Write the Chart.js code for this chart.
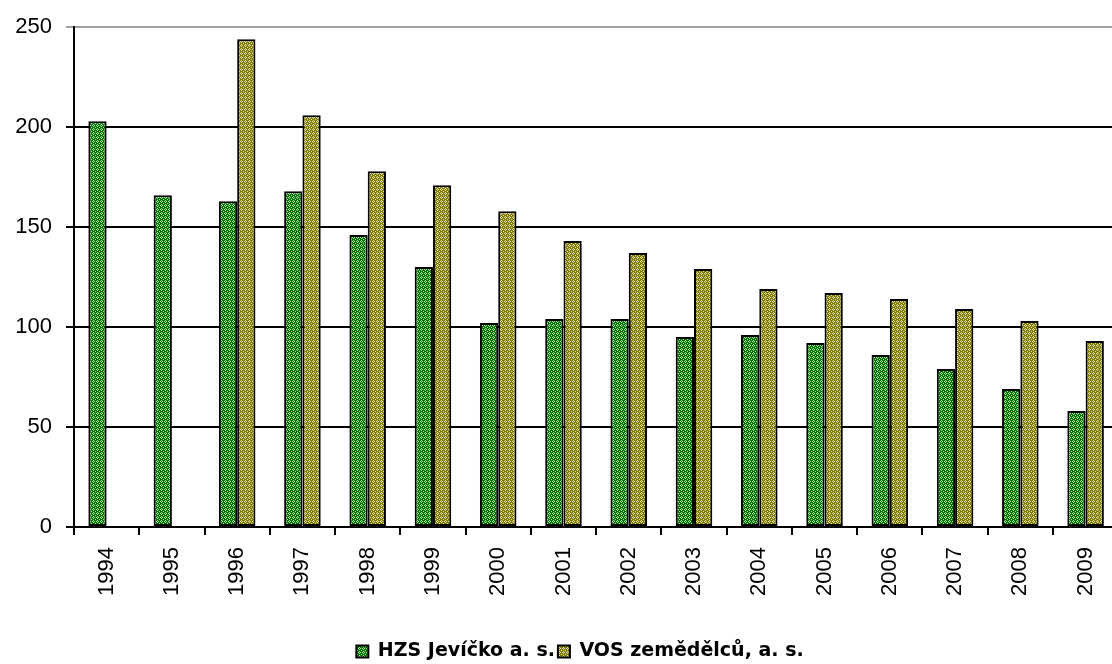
<!DOCTYPE html>
<html>
<head>
<meta charset="utf-8">
<script src="https://cdn.jsdelivr.net/npm/chart.js@4"></script>
<style>
  html, body { margin: 0; padding: 0; background: #fff; overflow: hidden; }
  #wrap { width: 1124px; height: 664px; }
</style>
</head>
<body>
<div id="wrap"><canvas id="myChart" width="1124" height="664"></canvas></div>
<script>
const years = ['1994', '1995', '1996', '1997', '1998', '1999', '2000', '2001',
               '2002', '2003', '2004', '2005', '2006', '2007', '2008', '2009'];
const hzsValues = [203, 166, 163, 168, 146, 130, 102, 104, 104, 95, 96, 92, 86, 79, 69, 58];
const vosValues = [null, null, 244, 206, 178, 171, 158, 143, 137, 129, 119, 117, 114, 109, 103, 93];
const seriesNames = ['HZS Jevíčko a. s.', 'VOS zemědělců, a. s.'];
const yTicks = [0, 50, 100, 150, 200, 250];

// small hatch tile like the old Excel "dotted diamond" fill
function makePattern(base, light) {
    const c = document.createElement('canvas');
    c.width = 4;
    c.height = 4;
    const g = c.getContext('2d');
    g.fillStyle = base;
    g.fillRect(0, 0, 4, 4);
    g.fillStyle = light;
    [[1, 0], [0, 1], [2, 1], [1, 2], [3, 3]].forEach(p => g.fillRect(p[0], p[1], 1, 1));
    return g.createPattern(c, 'repeat');
}

const greenFill = makePattern('#007800', '#b8dcb0');
const oliveFill = makePattern('#807c00', '#e0e0b0');

// nudge the legend a little to the right and down, like the original
const legendShift = {
    id: 'legendShift',
    afterUpdate(chart) {
        const lg = chart.legend;
        if (!lg || lg._shifted) return;
        const orig = lg.draw;
        lg.draw = function () {
            chart.ctx.save();
            chart.ctx.translate(18, 7);
            orig.apply(this, arguments);
            chart.ctx.restore();
        };
        lg._shifted = true;
    }
};

const tickFont = { family: 'Liberation Sans', size: 22 };

const ctx = document.getElementById('myChart').getContext('2d');
const chart = new Chart(ctx, {
    type: 'bar',
    data: {
        labels: years,
        datasets: [{
            label: seriesNames[0],
            data: hzsValues,
            backgroundColor: greenFill,
            borderColor: '#000',
            borderWidth: 2,
            borderSkipped: false
        }, {
            label: seriesNames[1],
            data: vosValues,
            backgroundColor: oliveFill,
            borderColor: '#000',
            borderWidth: 2,
            borderSkipped: false
        }]
    },
    options: {
        responsive: false,
        animation: false,
        categoryPercentage: 0.56,
        barPercentage: 1,
        layout: { padding: { top: 11, left: 0, right: 0, bottom: 0 } },
        plugins: {
            tooltip: { enabled: false },
            legend: {
                position: 'bottom',
                labels: {
                    color: '#000',
                    font: { family: 'DejaVu Sans', size: 19, weight: 'bold' },
                    boxWidth: 12,
                    boxHeight: 12,
                    padding: 3
                }
            }
        },
        scales: {
            x: {
                grid: {
                    offset: true,
                    drawOnChartArea: false,
                    color: '#000',
                    lineWidth: 2,
                    tickLength: 8
                },
                border: { color: '#000', width: 2 },
                ticks: {
                    color: '#000',
                    minRotation: 90,
                    maxRotation: 90,
                    padding: 12,
                    font: tickFont
                },
                afterFit: scale => { scale.height = 105; }
            },
            y: {
                min: 0,
                max: 250,
                afterBuildTicks: scale => { scale.ticks = yTicks.map(v => ({ value: v })); },
                grid: {
                    color: c => (c.tick && c.tick.value === 250 ? '#a0a0a0' : '#000'),
                    lineWidth: 2,
                    tickLength: 8
                },
                border: { color: '#000', width: 2 },
                ticks: {
                    color: '#000',
                    padding: 14,
                    font: tickFont
                },
                afterFit: scale => { scale.width = 74; }
            }
        }
    },
    plugins: [legendShift]
});
</script>
</body>
</html>
